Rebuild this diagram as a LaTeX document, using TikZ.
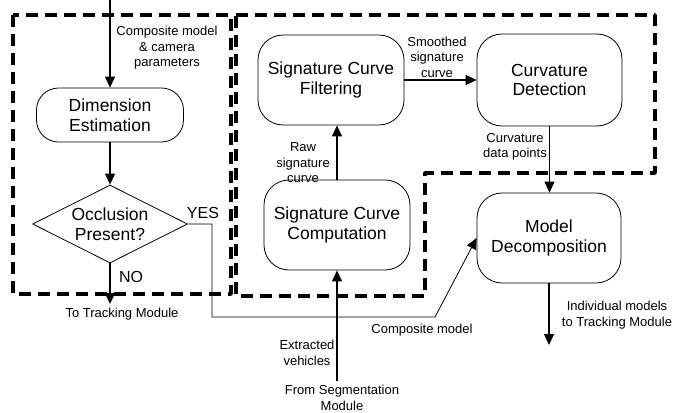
\documentclass[tikz,border=0pt]{standalone}
\usepackage{fontspec}
\setmainfont{Liberation Sans}
\usetikzlibrary{shapes.geometric,arrows.meta}

\begin{document}
\begin{tikzpicture}[x=1pt,y=-1pt,>={Triangle[length=11pt,width=10pt]},
    box/.style={draw,rounded corners=25pt,line width=0.8pt,align=center,inner sep=0pt,
      font=\fontsize{17.5}{19.5}\selectfont,minimum width=146pt,minimum height=90pt},
    decision/.style={draw,diamond,aspect=2,line width=0.8pt,align=center,inner sep=0pt,
      font=\fontsize{17.5}{19.5}\selectfont,minimum width=155pt,minimum height=78pt},
    lbl/.style={align=center,inner sep=0pt,font=\fontsize{13}{15.5}\selectfont},
    ans/.style={inner sep=0pt,font=\fontsize{16}{18}\selectfont},
    flow/.style={->,line width=1.2pt},
    region/.style={line width=3.8pt,dash pattern=on 12pt off 7pt,line join=round}]
    \useasboundingbox (0,0) rectangle (676,412);

    \draw[region] (13,15) rectangle (231,294);
    \draw[region] (236,15) -- (655,15) -- (655,173) -- (425,173) -- (425,296) -- (236,296) -- cycle;

    \node[box,minimum width=147pt,minimum height=54pt,rounded corners=22pt] (dim) at (110,115) {Dimension\\Estimation};
    \node[decision] (occ) at (110,224) {Occlusion\\Present?};
    \node[box] (filt) at (331,80) {Signature Curve\\Filtering};
    \node[box,minimum width=145pt,minimum height=92pt] (curv) at (549.5,80) {Curvature\\Detection};
    \node[box] (comp) at (337,225) {Signature Curve\\Computation};
    \node[box,minimum width=144pt] (dec) at (549,238) {Model\\Decomposition};

    \coordinate (top) at (110,0);
    \coordinate (notrack) at (110,304);
    \coordinate (seg) at (337,381);
    \coordinate (out) at (549,345);

    \draw[flow] (top) -- (dim.north);
    \draw[flow] (dim.south) -- (occ.north);
    \draw[flow] (occ.south) -- (notrack);
    \draw[->,line width=0.8pt] (occ.east) -- (212,224) -- (212,317) -- (435,317) -- (dec.west);
    \draw[flow] (seg) -- (comp.south);
    \draw[flow] (comp.north) -- (comp.north |- filt.south);
    \draw[flow] (filt.east) -- (curv.west);
    \draw[flow] (curv.south) -- (curv.south |- dec.north);
    \draw[flow] (dec.south) -- (out);

    \node[lbl] (inlbl) at (167,48) {Composite model\\\& camera\\parameters};
    \node[ans] (yes) at (203,213) {YES};
    \node[ans] (no) at (131,277) {NO};
    \node[lbl] (nolbl) at (122,314) {To Tracking Module};
    \node[lbl] (rawlbl) at (303,163) {Raw\\signature\\curve};
    \node[lbl] (smlbl) at (437,57) {Smoothed\\signature\\curve};
    \node[lbl] (cdlbl) at (515,147) {Curvature\\data points};
    \node[lbl] (exlbl) at (307,353) {Extracted\\vehicles};
    \node[lbl] (seglbl) at (342,398) {From Segmentation\\Module};
    \node[lbl] (cmlbl) at (422,330) {Composite model};
    \node[lbl] (outlbl) at (617,315) {Individual models\\to Tracking Module};
\end{tikzpicture}
\end{document}
